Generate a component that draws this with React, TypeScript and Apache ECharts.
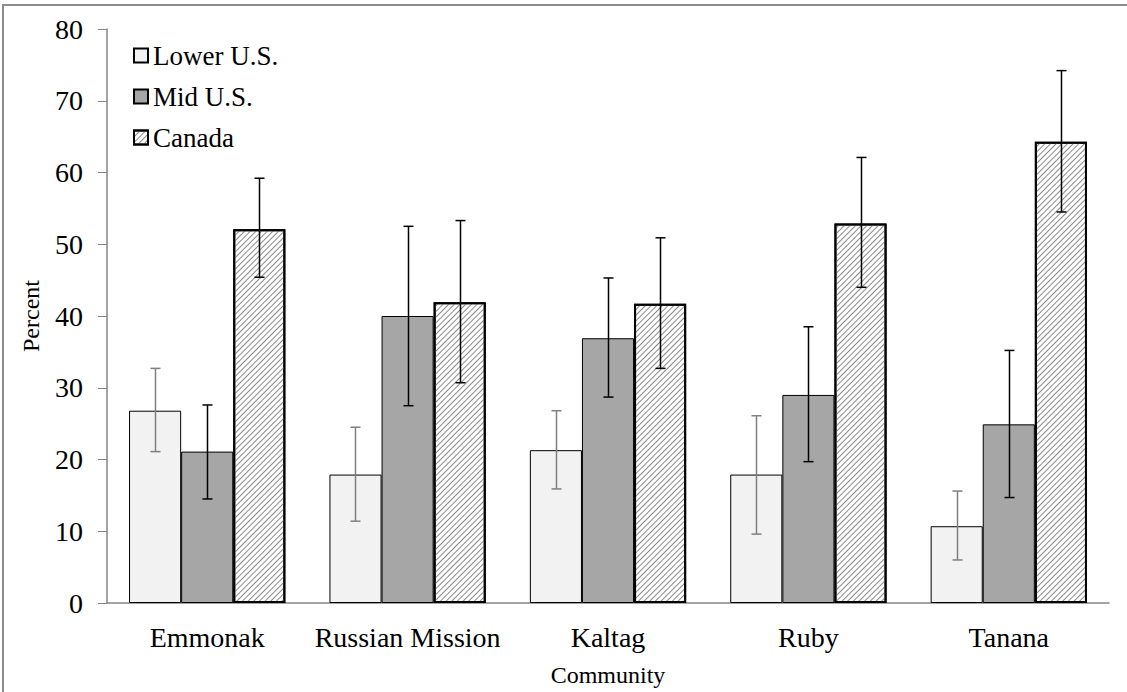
import React, { useEffect, useRef } from "react";
import * as echarts from "echarts";

const categories = ["Emmonak", "Russian Mission", "Kaltag", "Ruby", "Tanana"];
const seriesNames = ["Lower U.S.", "Mid U.S.", "Canada"];
const lowerValues = [26.8, 17.9, 21.3, 17.9, 10.7];
const lowerLow = [21.1, 11.4, 15.9, 9.6, 6.0];
const lowerHigh = [32.7, 24.5, 26.8, 26.1, 15.6];
const midValues = [21.1, 40.0, 36.9, 29.0, 24.9];
const midLow = [14.5, 27.5, 28.7, 19.7, 14.7];
const midHigh = [27.6, 52.5, 45.3, 38.5, 35.2];
const canadaValues = [52.1, 41.9, 41.7, 52.9, 64.3];
const canadaLow = [45.4, 30.7, 32.7, 44.0, 54.5];
const canadaHigh = [59.2, 53.3, 50.9, 62.1, 74.2];
const yTicks = [0, 10, 20, 30, 40, 50, 60, 70, 80];

const FONT = "'Liberation Serif', 'Times New Roman', serif";
const CAT_GAP = 0.22;

function errSeries(name: string, lows: number[], highs: number[], offset: number, color: string) {
  return {
    type: "custom",
    name: name + " err",
    z: 10,
    silent: true,
    data: categories.map((_, i) => [i, lows[i], highs[i]]),
    encode: { x: 0, y: [1, 2] },
    renderItem: (params: any, api: any) => {
      const lo = api.coord([api.value(0), api.value(1)]);
      const hi = api.coord([api.value(0), api.value(2)]);
      const band = api.size([1, 0])[0];
      const bw = (band * (1 - CAT_GAP)) / 3;
      const x = Math.round(lo[0] + offset * bw) + 0.5;
      const cap = 5;
      const style = { stroke: color, lineWidth: 1.5 };
      return {
        type: "group",
        children: [
          { type: "line", shape: { x1: x, y1: lo[1], x2: x, y2: hi[1] }, style },
          { type: "line", shape: { x1: x - cap, y1: lo[1], x2: x + cap, y2: lo[1] }, style },
          { type: "line", shape: { x1: x - cap, y1: hi[1], x2: x + cap, y2: hi[1] }, style },
        ],
      };
    },
  };
}

export default function App() {
  const ref = useRef<HTMLDivElement>(null);
  useEffect(() => {
    if (!ref.current) return;
    const chart = echarts.init(ref.current, undefined, { renderer: "svg" });
    const hatch = {
      symbol: "rect",
      symbolSize: 1,
      dashArrayX: [1, 0],
      dashArrayY: [1, 2.6],
      rotation: -Math.PI / 4,
      color: "#8a8a8a",
      backgroundColor: "#ffffff",
    };
    chart.setOption({
      animation: false,
      backgroundColor: "#ffffff",
      textStyle: { fontFamily: FONT },
      graphic: [
        {
          type: "rect",
          shape: { x: 3, y: 5, width: 1200, height: 800 },
          style: { fill: "none", stroke: "#8c8c8c", lineWidth: 2 },
          silent: true,
        },
      ],
      grid: { left: 107, right: 18, top: 29, bottom: 88 },
      legend: {
        orient: "vertical",
        left: 128,
        top: 37,
        icon: "rect",
        itemWidth: 14,
        itemHeight: 14,
        itemGap: 14,
        data: seriesNames,
        textStyle: { fontFamily: FONT, fontSize: 27, color: "#000" },
      },
      xAxis: {
        type: "category",
        data: categories,
        name: "Community",
        nameLocation: "middle",
        nameGap: 60,
        nameTextStyle: { fontFamily: FONT, fontSize: 24, color: "#000" },
        axisLine: { lineStyle: { color: "#868686", width: 1.5 } },
        axisTick: { show: false },
        axisLabel: { fontFamily: FONT, fontSize: 28, color: "#000", margin: 20, interval: 0 },
      },
      yAxis: {
        type: "value",
        min: 0,
        max: 80,
        interval: 10,
        name: "Percent",
        nameLocation: "middle",
        nameGap: 64,
        nameTextStyle: { fontFamily: FONT, fontSize: 24, color: "#000" },
        axisLine: { show: true, lineStyle: { color: "#868686", width: 1.5 } },
        axisTick: { show: true, length: 9, lineStyle: { color: "#868686" } },
        splitLine: { show: false },
        axisLabel: {
          fontFamily: FONT,
          fontSize: 28,
          color: "#000",
          margin: 24,
          formatter: (v: number) => (yTicks.includes(v) ? String(v) : ""),
        },
      },
      series: [
        {
          type: "bar",
          name: seriesNames[0],
          data: lowerValues,
          barGap: "0%",
          barCategoryGap: "22%",
          itemStyle: { color: "#f2f2f2", borderColor: "#000", borderWidth: 1 },
        },
        {
          type: "bar",
          name: seriesNames[1],
          data: midValues,
          barGap: "0%",
          barCategoryGap: "22%",
          itemStyle: { color: "#a6a6a6", borderColor: "#000", borderWidth: 1 },
        },
        {
          type: "bar",
          name: seriesNames[2],
          data: canadaValues,
          barGap: "0%",
          barCategoryGap: "22%",
          itemStyle: { color: "#ffffff", borderColor: "#000", borderWidth: 2, decal: hatch },
        },
        errSeries("Lower U.S.", lowerLow, lowerHigh, -1, "#7f7f7f"),
        errSeries("Mid U.S.", midLow, midHigh, 0, "#000000"),
        errSeries("Canada", canadaLow, canadaHigh, 1, "#000000"),
      ],
    });
    return () => chart.dispose();
  }, []);
  return (
    <div
      ref={ref}
      style={{ position: "absolute", left: 0, top: 0, width: 1127, height: 692 }}
    />
  );
}
